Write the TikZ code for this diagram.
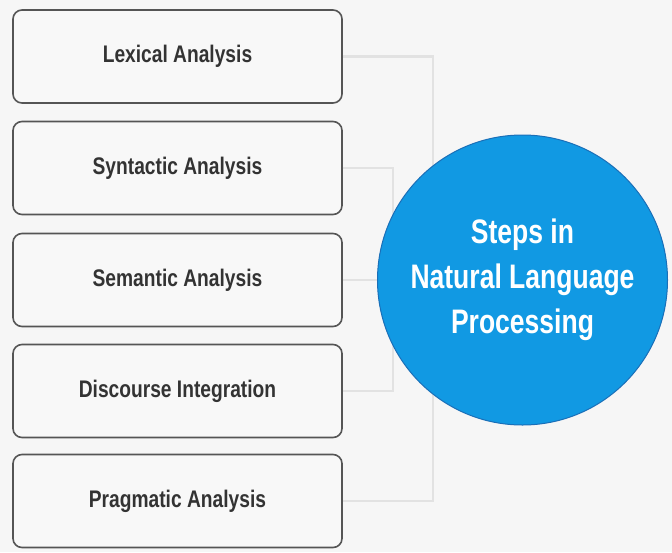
\documentclass[tikz,border=0pt]{standalone}
\usepackage{fontspec}
\setmainfont{Liberation Sans}
\newfontfamily\condfont[FakeStretch=0.8]{Liberation Sans}
\newfontfamily\hubfont[FakeStretch=0.78]{Liberation Sans}
\definecolor{bgc}{HTML}{F6F6F6}
\definecolor{boxfill}{HTML}{F8F8F8}
\definecolor{boxline}{HTML}{555555}
\definecolor{txt}{HTML}{333333}
\definecolor{conn}{HTML}{E2E2E2}
\definecolor{circfill}{HTML}{1199E3}
\definecolor{circline}{HTML}{1A6FB8}
\tikzset{
  stepbox/.style={draw=boxline, line width=1.6pt, fill=boxfill, rounded corners=9pt,
    minimum width=329pt, minimum height=93pt, inner sep=0pt,
    font=\condfont\bfseries\fontsize{24}{28}\selectfont, text=txt},
  connector/.style={draw=conn, line width=2.5pt},
  hub/.style={circle, draw=circline, line width=1pt, fill=circfill, minimum size=290pt,
    inner sep=0pt, align=center, text=white,
    font=\hubfont\bfseries\fontsize{34}{45}\selectfont}
}
\begin{document}
\begin{tikzpicture}[x=1pt,y=-1pt]
\path[fill=bgc] (0,0) rectangle (672,552);
\useasboundingbox (0,0) rectangle (672,552);
\node[stepbox] (b1) at (177.5,56.5) {Lexical Analysis};
\node[stepbox] (b2) at (177.5,168) {Syntactic Analysis};
\node[stepbox] (b3) at (177.5,280) {Semantic Analysis};
\node[stepbox] (b4) at (177.5,391) {Discourse Integration};
\node[stepbox] (b5) at (177.5,501) {Pragmatic Analysis};
\coordinate (o1) at (433,56.5);
\coordinate (o2) at (433,501);
\coordinate (i1) at (393,168);
\coordinate (i2) at (393,391);
\draw[connector] (b1.east) -- (o1) -- (o2) -- (b5.east);
\draw[connector] (b2.east) -- (i1) -- (i2) -- (b4.east);
\node[hub] (c) at (522.5,280) {Steps in\\Natural Language\\Processing};
\draw[connector] (b3.east) -- (c.west);
\end{tikzpicture}
\end{document}
